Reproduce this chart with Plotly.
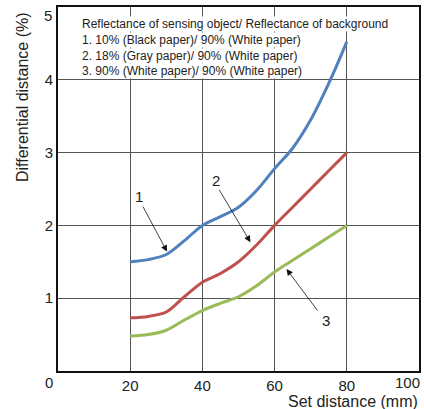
import plotly.graph_objects as go

# ---- data ----
set_distance = [20, 25, 30, 35, 40, 45, 50, 55, 60, 65, 70, 75, 80]
curve1 = [1.50, 1.53, 1.60, 1.79, 2.00, 2.12, 2.25, 2.48, 2.78, 3.06, 3.45, 3.95, 4.52]
curve2 = [0.73, 0.75, 0.81, 1.02, 1.22, 1.34, 1.50, 1.73, 2.00, 2.25, 2.50, 2.75, 3.00]
curve3 = [0.48, 0.50, 0.56, 0.70, 0.83, 0.93, 1.02, 1.17, 1.36, 1.52, 1.68, 1.84, 2.00]
series_names = ["1", "2", "3"]
series_colors = ["#4F81BD", "#C0504D", "#9BBB59"]

x_tick_vals = [0, 20, 40, 60, 80, 100]
x_tick_text = ["0", "20", "40", "60", "80", "100"]
y_tick_vals = [1, 2, 3, 4, 5]
y_tick_text = ["1", "2", "3", "4", "5"]

legend_lines = [
    "Reflectance of sensing object/ Reflectance of background",
    "1. 10% (Black paper)/ 90% (White paper)",
    "2. 18% (Gray paper)/ 90% (White paper)",
    "3. 90% (White paper)/ 90% (White paper)",
]
legend_y = [4.77, 4.545, 4.325, 4.115]

# callouts: label position, arrow tail, arrow head (data coords)
callout_text = ["1", "2", "3"]
callout_label = [(22.5, 2.40), (43.7, 2.62), (74.3, 0.70)]
callout_tail = [(23.3, 2.28), (44.4, 2.51), (72.2, 0.81)]
callout_head = [(30.2, 1.64), (53.3, 1.77), (63.3, 1.40)]

FONT = "Liberation Sans, Arial, sans-serif"

fig = go.Figure()
for ys, name, col in zip([curve1, curve2, curve3], series_names, series_colors):
    fig.add_trace(go.Scatter(x=set_distance, y=ys, mode="lines", name=name,
                             line=dict(color=col, width=3, shape="spline", smoothing=0.9),
                             showlegend=False, hoverinfo="skip"))

annotations = []
# legend-like text lines with white background
for txt, yy in zip(legend_lines, legend_y):
    annotations.append(dict(x=6.4, y=yy, xref="x", yref="y", text=txt, showarrow=False,
                            xanchor="left", yanchor="middle", bgcolor="white", borderpad=0,
                            font=dict(family=FONT, size=12, color="#222")))
# callouts
for t, lab, tail, head in zip(callout_text, callout_label, callout_tail, callout_head):
    annotations.append(dict(x=head[0], y=head[1], ax=tail[0], ay=tail[1], xref="x", yref="y",
                            axref="x", ayref="y", text="", showarrow=True, arrowhead=2,
                            arrowsize=1.6, arrowwidth=0.8, arrowcolor="#111", standoff=0,
                            startstandoff=0))
    annotations.append(dict(x=lab[0], y=lab[1], xref="x", yref="y", text=t, showarrow=False,
                            xanchor="center", yanchor="middle",
                            font=dict(family=FONT, size=15, color="#222")))
# edge tick labels
annotations.append(dict(x=0, y=0, xref="paper", yref="paper", text=x_tick_text[0], showarrow=False,
                        xanchor="center", yanchor="middle", xshift=-9, yshift=-11,
                        font=dict(family=FONT, size=15, color="#222")))
annotations.append(dict(x=x_tick_vals[-1], y=0, xref="x", yref="paper", text=x_tick_text[-1],
                        showarrow=False, xanchor="right", yanchor="middle", xshift=3, yshift=-11,
                        font=dict(family=FONT, size=15, color="#222")))
annotations.append(dict(x=0, y=y_tick_vals[-1], xref="paper", yref="y", text=y_tick_text[-1],
                        showarrow=False, xanchor="right", yanchor="middle", xshift=-4, yshift=-8,
                        font=dict(family=FONT, size=15, color="#222")))
# axis titles
annotations.append(dict(x=1, y=0, xref="paper", yref="paper", text="Set distance (mm)",
                        showarrow=False, xanchor="right", yanchor="middle", yshift=-30,
                        borderpad=0,
                        font=dict(family=FONT, size=16, color="#222")))
annotations.append(dict(x=0, y=1, xref="paper", yref="paper", text="Differential distance (%)",
                        showarrow=False, textangle=-90, xanchor="center", yanchor="top",
                        xshift=-36, yshift=-3,
                        font=dict(family=FONT, size=16, color="#222")))

fig.update_layout(
    width=424, height=409,
    margin=dict(l=58, r=3, t=7, b=38),
    paper_bgcolor="white", plot_bgcolor="white",
    annotations=annotations,
    font=dict(family=FONT, size=15, color="#222"),
)
fig.update_xaxes(range=[0, 100], tickvals=x_tick_vals[1:-1], ticktext=x_tick_text[1:-1],
                 showgrid=True, gridcolor="#555", gridwidth=1, zeroline=False,
                 showline=True, linecolor="#111", linewidth=2, mirror=True,
                 ticks="", tickfont=dict(family=FONT, size=15, color="#222"))
fig.update_yaxes(range=[0, 5], tickvals=y_tick_vals[:-1], ticktext=y_tick_text[:-1],
                 showgrid=True, gridcolor="#555", gridwidth=1, zeroline=False,
                 showline=True, linecolor="#111", linewidth=2, mirror=True,
                 ticks="", tickfont=dict(family=FONT, size=15, color="#222"))

fig.write_html("out.html", config={"displayModeBar": False},
               post_script="document.body.style.margin='0';document.body.style.overflow='hidden';")
